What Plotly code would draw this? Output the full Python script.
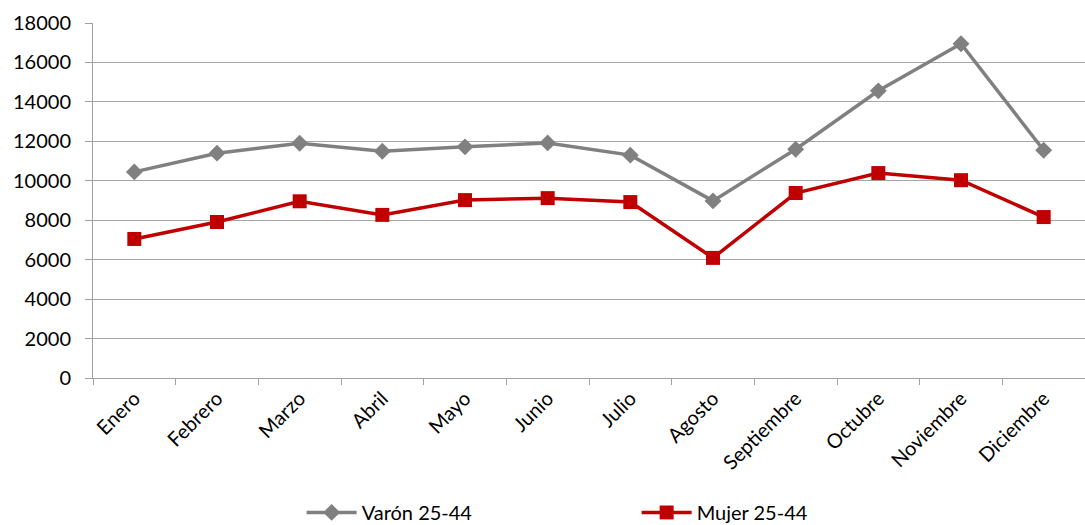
import plotly.graph_objects as go

meses = ["Enero", "Febrero", "Marzo", "Abril", "Mayo", "Junio", "Julio",
         "Agosto", "Septiembre", "Octubre", "Noviembre", "Diciembre"]
varon = [10450, 11400, 11900, 11500, 11720, 11920, 11300, 8980, 11600, 14560, 16950, 11550]
mujer = [7050, 7910, 8960, 8270, 9020, 9120, 8920, 6090, 9380, 10390, 10030, 8160]

fig = go.Figure()
fig.add_trace(go.Scatter(
    x=meses, y=varon, name="Varón 25-44", mode="lines+markers",
    line=dict(color="#808080", width=3.5),
    marker=dict(symbol="diamond", size=13, color="#808080"),
))
fig.add_trace(go.Scatter(
    x=meses, y=mujer, name="Mujer 25-44", mode="lines+markers",
    line=dict(color="#c00000", width=3.5),
    marker=dict(symbol="square", size=14, color="#c00000"),
))

font_family = "Lato, 'Open Sans', sans-serif"
fig.update_layout(
    width=1085, height=525,
    margin=dict(l=93, r=0, t=23, b=147, autoexpand=False),
    plot_bgcolor="white", paper_bgcolor="white",
    font=dict(family=font_family, size=20, color="#000000"),
    showlegend=True,
    legend=dict(orientation="h", xref="container", yref="container",
                x=0.278, xanchor="left", y=0.024, yanchor="middle",
                font=dict(size=20), itemwidth=50, entrywidth=270, entrywidthmode="pixels"),
    xaxis=dict(
        type="category", tickangle=-45, showgrid=False, automargin=False,
        showline=True, linecolor="#a0a0a0", linewidth=1,
        ticks="outside", tickson="boundaries", ticklen=6, tickcolor="#a0a0a0",
        range=[-0.5, 11.5], tickfont=dict(size=20),
    ),
    yaxis=dict(
        range=[0, 18000], dtick=2000, tickformat="d", showgrid=True, automargin=False,
        gridcolor="#a6a6a6", gridwidth=1,
        showline=True, linecolor="#a0a0a0", linewidth=1,
        ticks="outside", ticklen=7, tickcolor="#a0a0a0", ticklabelstandoff=10,
        tickfont=dict(size=20), zeroline=False,
    ),
)

fig.write_html("out.html")
